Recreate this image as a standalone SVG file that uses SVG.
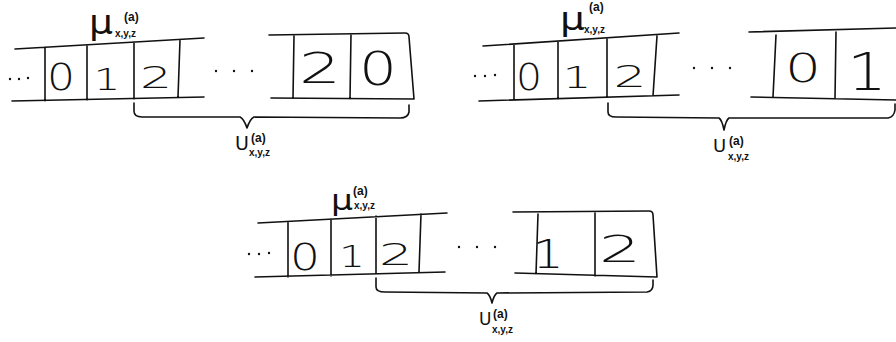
<svg xmlns="http://www.w3.org/2000/svg" width="896" height="342" viewBox="0 0 896 342">
<style>
.ln{fill:none;stroke:#111;stroke-width:1.6;stroke-linecap:round;stroke-linejoin:round}
.dg{font-family:"DejaVu Sans","Liberation Sans",sans-serif;font-weight:200;fill:#111;text-anchor:middle}
.mu{font-family:"DejaVu Sans","Liberation Sans",sans-serif;font-weight:normal;fill:#111}
.sp{font-family:"Liberation Sans",sans-serif;font-size:12px;fill:#111;font-weight:bold}
.sb{font-family:"Liberation Sans",sans-serif;font-size:10px;fill:#111;font-weight:bold}
.dot{fill:#111}
</style>
<rect width="896" height="342" fill="#fff"/>

<g id="panel1">
  <path class="ln" d="M15,49 L204,38 M12,101 L204,97 M45,47 L45,101 M87,45 L87,100 M134,42 L134,99 M180,40 L178,97 M269,35 L405,33 Q409,33 409,37 L414,99 M271,98 L414,99 M294,36 L293,98 M351,34 L350,99"/>
  <circle class="dot" cx="10" cy="79" r="1.2"/><circle class="dot" cx="19" cy="79" r="1.2"/><circle class="dot" cx="28" cy="78" r="1.2"/>
  <circle class="dot" cx="216" cy="71" r="1.2"/><circle class="dot" cx="234" cy="71" r="1.2"/><circle class="dot" cx="252" cy="71" r="1.2"/>
  <text class="dg" x="61" y="90" font-size="37" textLength="28" lengthAdjust="spacingAndGlyphs">0</text>
  <text class="dg" x="107" y="90" font-size="31" textLength="27" lengthAdjust="spacingAndGlyphs">1</text>
  <text class="dg" x="156" y="88" font-size="31" textLength="32" lengthAdjust="spacingAndGlyphs">2</text>
  <text class="dg" x="320" y="83" font-size="42" textLength="42" lengthAdjust="spacingAndGlyphs">2</text>
  <text class="dg" x="378" y="85" font-size="46" textLength="38" lengthAdjust="spacingAndGlyphs">0</text>
  <text class="mu" x="89" y="34" font-size="34" textLength="24" lengthAdjust="spacingAndGlyphs">μ</text>
  <text class="sp" x="124" y="21">(a)</text>
  <text class="sb" x="115" y="37">x,y,z</text>
  <text class="mu" x="235" y="150" font-size="19">U</text>
  <text class="sp" x="251" y="142">(a)</text>
  <text class="sb" x="249" y="156" font-size="11">x,y,z</text>
</g>

<g id="panel2">
  <path class="ln" d="M483,46 L679,33 M479,101 L679,95 M514,45 L514,100 M558,42 L558,99 M607,39 L607,97 M657,36 L653,96 M749,32 L896,28 M751,97 L896,100 M776,35 L773,97 M836,32 L835,98"/>
  <circle class="dot" cx="475" cy="76" r="1.2"/><circle class="dot" cx="485" cy="76" r="1.2"/><circle class="dot" cx="495" cy="75" r="1.2"/>
  <circle class="dot" cx="694" cy="68" r="1.2"/><circle class="dot" cx="712" cy="68" r="1.2"/><circle class="dot" cx="730" cy="68" r="1.2"/>
  <text class="dg" x="529" y="90" font-size="37" textLength="26" lengthAdjust="spacingAndGlyphs">0</text>
  <text class="dg" x="577" y="88" font-size="30" textLength="29" lengthAdjust="spacingAndGlyphs">1</text>
  <text class="dg" x="630" y="87" font-size="31" textLength="33" lengthAdjust="spacingAndGlyphs">2</text>
  <text class="dg" x="803" y="82" font-size="39" textLength="36" lengthAdjust="spacingAndGlyphs">0</text>
  <text class="dg" x="867" y="90" font-size="52" textLength="40" lengthAdjust="spacingAndGlyphs">1</text>
  <text class="mu" x="560" y="30" font-size="32" textLength="25" lengthAdjust="spacingAndGlyphs">μ</text>
  <text class="sp" x="589" y="11">(a)</text>
  <text class="sb" x="584" y="33">x,y,z</text>
  <text class="mu" x="713" y="152" font-size="18">U</text>
  <text class="sp" x="729" y="145">(a)</text>
  <text class="sb" x="728" y="160" font-size="11">x,y,z</text>
</g>

<g id="panel3">
  <path class="ln" d="M258,223 L447,213 M255,277 L445,272 M288,222 L288,277 M331,219 L331,276 M376,216 L376,274 M421,214 L419,272 M513,212 L649,211 Q653,211 653,215 L657,277 M515,273 L657,277 M538,214 L536,274 M595,213 L595,276"/>
  <circle class="dot" cx="249" cy="254" r="1.2"/><circle class="dot" cx="259" cy="254" r="1.2"/><circle class="dot" cx="269" cy="253" r="1.2"/>
  <circle class="dot" cx="459" cy="247" r="1.2"/><circle class="dot" cx="477" cy="247" r="1.2"/><circle class="dot" cx="495" cy="247" r="1.2"/>
  <text class="dg" x="305" y="270" font-size="38" textLength="30" lengthAdjust="spacingAndGlyphs">0</text>
  <text class="dg" x="352" y="267" font-size="31" textLength="26" lengthAdjust="spacingAndGlyphs">1</text>
  <text class="dg" x="396" y="265" font-size="31" textLength="34" lengthAdjust="spacingAndGlyphs">2</text>
  <text class="dg" x="548" y="268" font-size="39" textLength="32" lengthAdjust="spacingAndGlyphs">1</text>
  <text class="dg" x="620" y="262" font-size="38" textLength="42" lengthAdjust="spacingAndGlyphs">2</text>
  <text class="mu" x="331" y="210" font-size="29" textLength="22" lengthAdjust="spacingAndGlyphs">μ</text>
  <text class="sp" x="353" y="195">(a)</text>
  <text class="sb" x="354" y="209">x,y,z</text>
  <text class="mu" x="479" y="325" font-size="17">U</text>
  <text class="sp" x="493" y="318">(a)</text>
  <text class="sb" x="492" y="333" font-size="11">x,y,z</text>
</g>

<g id="connectors">
  <path class="ln" d="M134,103 L134,111 Q134,117 142,117 L240,117 Q244,119 247,128 Q250,119 254,117 L400,118 Q408,118 409,112 L409,105"/>
  <path class="ln" d="M608,103 L608,112 Q608,117 616,117 L719,118 Q722,120 724,130 Q726,120 729,118 L888,118 Q894,117 895,110 L895,104"/>
  <path class="ln" d="M376,278 L376,287 Q376,292 385,292 L487,293 Q490,295 492,303 Q494,295 497,293 L647,292 Q653,291 653,285 L653,280"/>
</g>
</svg>
